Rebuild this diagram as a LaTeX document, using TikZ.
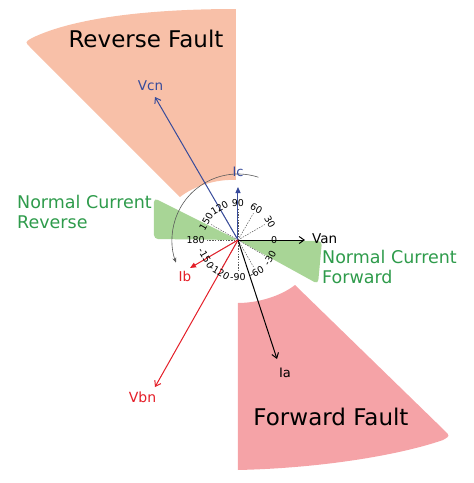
\documentclass[tikz,border=0pt]{standalone}
\usepackage{fontspec}
\setmainfont{DejaVu Sans}
\usetikzlibrary{arrows.meta}
\definecolor{revfault}{RGB}{248,192,168}
\definecolor{fwdfault}{RGB}{245,163,167}
\definecolor{greenfill}{RGB}{168,213,150}
\definecolor{normgreen}{RGB}{46,155,75}
\definecolor{vblue}{RGB}{55,75,155}
\definecolor{vred}{RGB}{228,30,40}
\definecolor{scalegrey}{RGB}{90,90,90}
\begin{document}
\begin{tikzpicture}[x=1pt,y=1pt,
  bigtxt/.style={font=\fontsize{23}{27}\selectfont, inner sep=0pt},
  greentxt/.style={font=\fontsize{17.5}{20}\selectfont, text=normgreen, inner sep=0pt},
  vlbl/.style={font=\fontsize{13.5}{16}\selectfont, inner sep=0pt},
  anglbl/.style={font=\fontsize{9.5}{11}\selectfont, inner sep=0pt},
  barb/.style={-{Straight Barb[length=5pt,width=7pt]}, line width=1pt},
  tri/.style={-{Triangle[length=6pt,width=5pt]}, line width=1pt},
  dashgrey/.style={scalegrey, line width=0.5pt, dash pattern=on 1.5pt off 1.2pt}]
\useasboundingbox (-238,-243) rectangle (236,240);
% fault regions
\fill[revfault] (-2,231) -- (-2,60) .. controls (-22,61) and (-44,54) .. (-58,43)
  -- (-208,193) .. controls (-213,198) .. (-206,202)
  .. controls (-165,222) and (-90,231) .. (-2,231) -- cycle;
\fill[fwdfault] (0,-230) -- (0,-63) .. controls (20,-63) and (43,-56) .. (57,-45)
  -- (207,-191) .. controls (212,-196) .. (205,-200)
  .. controls (165,-214) and (88,-228) .. (0,-230) -- cycle;
% normal current regions
\fill[greenfill, rounded corners=4pt] (0,0) -- (-84,1) -- (-84,42) -- cycle;
\fill[greenfill, rounded corners=4pt] (0,0) -- (84,-1) -- (80,-44) -- cycle;
% angle scale
\coordinate (O) at (0,0);
\draw[scalegrey, line width=0.6pt, -{Stealth[length=5pt,width=4pt]}] (72:66) arc[start angle=72, end angle=200, radius=66];
\foreach \a in {30,60,90,120,150,180,-30,-60,-90,-120,-150}{
  \draw[dashgrey] (O) -- (\a:31);
}
% text labels
\node[bigtxt, anchor=base] (rf) at (-92,193) {Reverse Fault};
\node[bigtxt, anchor=base] (ff) at (93,-185) {Forward Fault};
\node[greentxt, anchor=base west] (ncr1) at (-221,32) {Normal Current};
\node[greentxt, anchor=base west] (ncr2) at (-221,12) {Reverse};
\node[greentxt, anchor=base west] (ncf1) at (84,-23) {Normal Current};
\node[greentxt, anchor=base west] (ncf2) at (84,-43) {Forward};
% vectors
\coordinate (vcn) at (-83,143);
\coordinate (ic) at (0,53);
\coordinate (van) at (67,0);
\coordinate (ia) at (39,-119);
\coordinate (ib) at (-48,-28);
\coordinate (vbn) at (-83,-147);
\draw[barb, vblue] (O) -- (vcn);
\draw[tri, vblue] (O) -- (ic);
\draw[barb, black] (O) -- (van);
\draw[barb, black] (O) -- (ia);
\draw[tri, vred] (O) -- (ib);
\draw[barb, vred] (O) -- (vbn);
\node[vlbl, text=vblue, anchor=base] (lvcn) at (-87.5,150) {Vcn};
\node[vlbl, text=vblue, anchor=base, font=\fontsize{13}{15}\selectfont] (lic) at (0,64) {Ic};
\node[vlbl, anchor=base west] (lvan) at (74,-3) {Van};
\node[vlbl, anchor=base, font=\fontsize{13}{15}\selectfont] (lia) at (47,-137) {Ia};
\node[vlbl, text=vred, anchor=base] (lib) at (-53,-41) {Ib};
\node[vlbl, text=vred, anchor=base, font=\fontsize{14}{16}\selectfont] (lvbn) at (-95.5,-162) {Vbn};
% angle labels
\node[anglbl, anchor=west] (a0) at (0:33) {0};
\node[anglbl, anchor=east] (a180) at (180:33) {180};
\foreach \a in {30,60,90,120,150}{
  \node[anglbl, anchor=south, rotate=\a-90] (ap\a) at (\a:33) {\a};
}
\foreach \a/\n in {-30/30,-60/60,-90/90,-120/120,-150/150}{
  \node[anglbl, anchor=north, rotate=\a+90] (am\n) at (\a:33) {\a};
}
\end{tikzpicture}
\end{document}
